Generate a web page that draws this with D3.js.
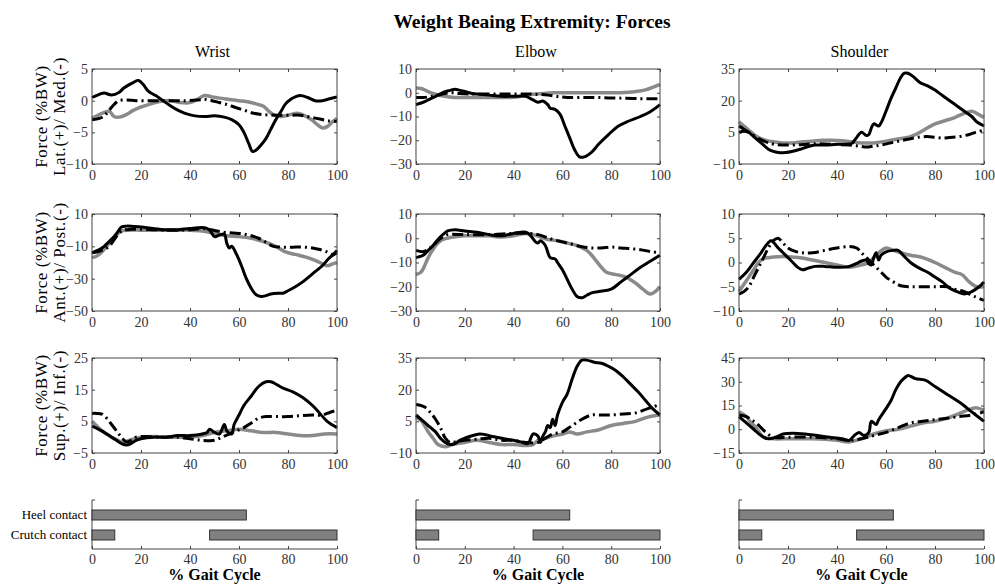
<!DOCTYPE html>
<html>
<head>
<meta charset="utf-8">
<script src="https://cdn.jsdelivr.net/npm/d3@7"></script>
<style>
	body { margin: 0; background: #fff; }
	svg { display: block; font-family: "Liberation Serif", "DejaVu Serif", serif; }
	.tick text { font-family: "Liberation Serif", "DejaVu Serif", serif; font-size: 14px; fill: #333; }
	.tick line { stroke: #444; }
	.domain { display: none; }
</style>
</head>
<body>
<div id="chart"></div>
<script>
/*globals d3 */
(function() {
	"use strict";

	// ---- data (x = % gait cycle) ----
	var joints = ["Wrist", "Elbow", "Shoulder"];
	var rowLabels = [
		["Force (%BW)", "Lat.(+)/ Med.(-)"],
		["Force (%BW)", "Ant.(+)/ Post.(-)"],
		["Force (%BW)", "Sup.(+)/ Inf.(-)"]
	];
	var xTicks = [0, 20, 40, 60, 80, 100];
	var latTicks = [[5, 0, -5, -10], [10, 0, -10, -20, -30], [35, 20, 5, -10]];
	var apTicks = [[10, -10, -30, -50], [10, 0, -10, -20, -30], [10, 5, 0, -5, -10]];
	var siTicks = [[25, 15, 5, -5], [35, 20, 5, -10], [45, 30, 15, 0, -15]];

	// Lat/Med
	var wristLatSolid = [[0,0.5],[3,1],[5,1.2],[8,0.9],[11,1.3],[13,2],[15,2.5],[17,2.9],[19,3.2],[21,2.5],[23,1.5],[26,0.8],[29,0],[32,-0.8],[35,-1.5],[38,-2],[42,-2.4],[46,-2.5],[50,-2.4],[54,-2.6],[57,-3],[60,-3.8],[62,-5],[64,-6.8],[65.5,-8],[67,-7.8],[69,-7],[71,-6],[73,-4.5],[75,-3],[77,-1.8],[79,-0.5],[81,0.2],[83,0.6],[85,0.8],[88,0.5],[91,0],[94,0],[97,0.3],[100,0.6]];
	var wristLatGray = [[0,-2.8],[2,-2.4],[4,-2],[7,-1.7],[9,-2.5],[11,-2.6],[14,-2.2],[17,-1.5],[20,-1],[24,-0.5],[28,-0.1],[32,0],[36,-0.3],[40,-0.3],[43,0.2],[46,0.8],[49,0.6],[52,0.4],[56,0.2],[60,0],[64,-0.2],[67,-0.5],[70,-0.9],[72,-1.6],[74,-2.2],[77,-2.5],[80,-2.3],[84,-2],[87,-2.4],[90,-3.1],[92,-3.8],[94,-4.3],[96,-4.1],[98,-3.4],[100,-2.8]];
	var wristLatDash = [[0,-3],[3,-2.8],[5,-2.4],[7,-1.5],[9,-0.6],[11,0],[14,0.1],[18,0],[25,0],[32,0],[38,0],[43,0.1],[46,0.2],[49,0],[52,-0.3],[55,-0.6],[58,-1],[62,-1.5],[66,-2],[70,-2.2],[75,-2.3],[80,-2.3],[85,-2.3],[89,-2.6],[93,-2.9],[97,-3.2],[100,-3.3]];
	var elbowLatSolid = [[0,-5],[3,-4],[5,-3],[8,-1.5],[10,-0.5],[12,0.5],[14,1],[16,1.5],[18,1],[20,0.5],[23,-0.3],[26,-0.6],[30,-1],[35,-1.5],[40,-1.5],[45,-1.5],[47,-2.5],[48,-3],[50,-4],[52,-3.5],[54,-5],[55,-6.5],[57,-7],[59,-9],[61,-14],[63,-19],[65,-24],[67,-27],[69,-27],[72,-25],[75,-21.5],[79,-17.5],[83,-14],[87,-12],[92,-10],[96,-8],[100,-5]];
	var elbowLatGray = [[0,2],[2,1.8],[4,1],[6,0],[8,-0.6],[10,-1.2],[13,-1.7],[16,-2],[20,-2],[25,-2],[30,-2],[35,-2],[40,-1.9],[44,-1.3],[48,-0.6],[52,-0.3],[56,0],[60,0],[66,0],[72,0],[78,0],[84,0],[88,0.3],[91,0.6],[94,1.2],[97,2.3],[100,3.5]];
	var elbowLatDash = [[0,-2],[3,-2],[6,-1.6],[9,-1],[12,-0.3],[15,0],[18,-0.3],[22,-0.5],[28,-0.5],[34,-0.5],[40,-0.5],[46,-0.5],[50,-0.7],[54,-1],[58,-1.6],[62,-2],[68,-2],[74,-2],[80,-2.2],[86,-2.3],[92,-2.5],[96,-2.5],[100,-2.5]];
	var shoulderLatSolid = [[0,8],[2,6.5],[4,5],[6,3],[8,1],[10,-1],[12,-3],[14,-4],[16,-4.5],[19,-4.6],[22,-4],[25,-3],[28,-1.8],[31,-1],[35,-1],[40,-0.7],[44,-0.6],[46,-0.3],[47,1],[48,2.5],[50,5],[52,3.5],[53,4],[54,7],[55,9],[57,8],[58,9.5],[60,15],[62,21],[64,26],[66,31],[67.5,33],[69,33],[71,31.5],[74,28.5],[77,27],[80,25],[83,22.5],[86,20],[89,17.5],[92,15],[95,12.5],[97,10],[100,8]];
	var shoulderLatGray = [[0,10],[2,8],[4,6],[6,4],[8,2.5],[11,1.2],[14,0.5],[18,0],[22,0],[26,0.5],[30,0.8],[34,1.2],[38,1.2],[42,1],[46,0.5],[50,0],[55,0],[60,0.8],[65,1.8],[70,3],[73,4.5],[76,6.5],[80,9],[84,10.5],[88,12],[92,14],[95,15],[97,14],[100,12]];
	var shoulderLatDash = [[0,5],[2,5.5],[4,5],[6,3.5],[8,2],[10,1],[12,0],[15,-0.8],[18,-1],[22,-1],[26,-0.8],[30,-0.5],[35,-0.5],[40,-0.8],[45,-1],[49,-1.5],[52,-2],[55,-1.5],[58,-1],[62,0],[66,1],[70,2],[74,2.8],[77,3],[80,2.6],[83,2.3],[86,2.6],[90,3],[94,4],[97,5.2],[100,6]];

	// Ant/Post
	var wristApSolid = [[0,-14],[3,-12],[5,-10],[7,-7],[9,-4],[11,0],[12,2],[14,2.5],[17,2.3],[20,2],[25,1],[30,0.3],[35,0.3],[40,1],[43,1.5],[46,1.5],[48,0],[50,-4],[52,-3],[54,-2.5],[55,-8],[56,-11],[57,-10],[59,-15],[61,-22],[63,-30],[65,-36],[67,-40],[69,-41],[71,-40.5],[73,-39.5],[76,-39],[78,-39],[80,-37.5],[83,-35],[86,-32],[90,-27],[94,-22],[97,-17],[100,-14]];
	var wristApGray = [[0,-17],[2,-16],[4,-13.5],[6,-10],[8,-6],[10,-3],[12,-0.5],[15,0],[20,0],[25,0],[30,0],[35,0],[40,0],[45,-0.5],[50,-2],[55,-3.5],[60,-4],[65,-5],[70,-7],[75,-10],[79,-13.5],[83,-15],[87,-16.5],[90,-18],[93,-20],[96,-22],[98,-21],[100,-20]];
	var wristApDash = [[0,-14],[3,-13],[5,-12],[7,-10],[9,-6],[11,-2],[13,0],[16,0.5],[20,0.5],[25,0.3],[30,0],[35,0],[40,0.3],[45,1],[48,0.5],[51,-0.5],[55,-1.5],[60,-2],[64,-3],[68,-5],[71,-7.5],[74,-10],[78,-10.5],[82,-10.5],[86,-10.5],[90,-11],[93,-12],[96,-13.5],[98,-15],[100,-12.5]];
	var elbowApSolid = [[0,-8],[3,-7],[5,-5],[7,-3],[9,-0.5],[11,1.5],[13,3],[16,3.5],[20,3],[25,2.5],[30,1.5],[35,1],[40,2],[45,2.5],[47,1],[49,-1.5],[50,-2],[51,-1],[53,-3],[55,-8],[57,-8.5],[58,-10],[60,-13],[62,-17],[64,-21],[66,-24],[68,-24.5],[70,-23.5],[72,-22.5],[75,-22],[80,-21],[84,-18],[88,-15],[92,-12],[96,-9.5],[100,-7]];
	var elbowApGray = [[0,-15],[2,-14],[3,-12.5],[5,-8],[7,-4.5],[9,-2],[11,-0.5],[14,0.3],[20,1],[25,1],[30,1],[35,0.5],[40,1],[45,2],[48,1.5],[51,0.5],[54,-0.5],[58,-1],[62,-2],[66,-3],[70,-5],[72,-7],[74,-9.5],[76,-12],[78,-14],[82,-15],[86,-16],[90,-18.5],[93,-21],[96,-23],[98,-22],[100,-20]];
	var elbowApDash = [[0,-5],[3,-5.5],[5,-4.5],[7,-3],[9,-1],[11,0.5],[13,1.5],[20,1.5],[30,1.5],[40,2],[46,2],[50,1.5],[53,0.5],[56,-0.5],[60,-1.5],[64,-2.5],[68,-3.5],[72,-4],[76,-4],[80,-3.6],[84,-4],[88,-4.3],[92,-4.7],[96,-5.5],[100,-6]];
	var shoulderApSolid = [[0,-3.5],[3,-2],[6,0],[9,2],[11,3.5],[13,4.5],[14,4.2],[16,3],[18,2],[20,1],[22,0],[24,-1],[26,-1.5],[28,-1.2],[31,-0.8],[35,-0.8],[40,-1],[45,-0.8],[48,-0.2],[50,0.3],[52,0.5],[53,-0.3],[54,-0.5],[55,1],[56,2],[57,0.5],[58,1.5],[60,2.2],[63,2.5],[65,2.5],[67,1.5],[70,0],[73,-1],[77,-2],[80,-3],[83,-4],[86,-5.3],[89,-6],[92,-6.5],[95,-6],[98,-5],[100,-4]];
	var shoulderApGray = [[0,-6],[2,-4.5],[4,-3],[6,-1.5],[8,0],[10,0.8],[12,1],[16,1.2],[20,1.2],[25,1],[30,0.5],[35,0],[40,-0.5],[45,-1],[50,-0.5],[53,0],[55,1],[57,2],[60,3],[63,2.5],[66,2],[70,1.5],[75,1],[80,0],[84,-1],[88,-2],[91,-2.5],[94,-4],[97,-5],[100,-5]];
	var shoulderApDash = [[0,-6.5],[2,-6],[4,-5],[6,-3],[8,-1],[10,1],[12,3],[14,4.5],[16,5],[18,4],[20,3],[23,2.3],[26,2],[30,2],[35,2.5],[40,3],[45,3.3],[48,3],[50,2],[52,1],[54,0],[56,-1],[58,-2],[60,-3],[63,-4],[66,-4.8],[70,-5],[75,-5],[80,-5],[85,-5],[88,-5.5],[92,-6],[96,-7],[100,-7.8]];

	// Sup/Inf
	var wristSiSolid = [[0,3.5],[2,2.8],[4,2],[6,1],[8,0],[10,-1],[12,-2],[14,-2.5],[16,-2],[18,-1],[20,-0.5],[25,0],[30,0],[35,0.5],[40,0.5],[45,1],[47,1.5],[48,2.5],[50,1.5],[52,1],[54,4],[55,2],[57,1],[58,4],[60,7],[62,10],[65,13],[68,16],[71,17.5],[73,17.5],[75,16.8],[78,15.5],[82,14.3],[86,12.5],[90,10],[93,7.5],[96,5],[100,3]];
	var wristSiGray = [[0,5],[2,3.5],[4,2],[6,1],[8,0],[10,-0.8],[12,-1.5],[14,-1.3],[16,-0.8],[20,0],[25,0.2],[30,0],[35,0],[40,0],[45,0.5],[50,1.5],[55,2],[60,2.5],[65,2],[70,1.5],[75,1.5],[80,1],[85,0.5],[90,0.5],[95,1],[100,1]];
	var wristSiDash = [[0,7.5],[2,7.5],[4,7.3],[6,6],[8,4],[10,2],[12,0],[14,-1.5],[16,-1],[18,0],[22,0.2],[26,0],[30,0],[35,0],[40,-0.5],[45,-1],[50,-1],[53,0],[56,1],[59,2],[62,3],[65,4.5],[68,6],[71,6.5],[75,6.5],[80,6.5],[85,6.8],[90,7],[94,7],[97,7.8],[100,8.5]];
	var elbowSiSolid = [[0,8],[2,6],[4,4],[6,2],[8,0],[10,-3],[12,-5],[14,-6],[16,-5.5],[18,-4],[20,-3],[23,-1.8],[26,-1],[28,-1.2],[30,-1.8],[33,-2.5],[36,-3.2],[40,-4],[43,-4.8],[46,-5.5],[47,-3],[48,-1],[50,-2],[51,-5],[52,-2],[53,0],[54,3],[55,2],[56,6],[57,3],[58,8],[60,14],[62,18],[64,25],[66,31],[68,34],[70,34],[73,33],[76,32.5],[79,31],[82,29],[85,26],[88,22.5],[91,19],[94,15],[97,11],[100,8]];
	var elbowSiGray = [[0,7],[2,5.5],[3,4],[5,0],[7,-3],[9,-6],[12,-7],[15,-6],[20,-5],[25,-4],[30,-5],[35,-6],[40,-6],[45,-6.5],[48,-6],[50,-4],[53,-3],[56,-2],[60,-1],[63,0],[66,-1],[70,0],[75,1],[80,3],[85,4],[90,5],[95,7],[100,8]];
	var elbowSiDash = [[0,13],[2,12.5],[4,11.5],[6,9],[8,6],[10,2],[12,-3],[14,-5],[17,-4.5],[20,-4],[25,-3.5],[30,-3],[35,-4],[40,-4],[45,-5],[50,-5],[53,-3],[56,-1],[60,0],[64,3],[68,6],[72,8],[76,8],[80,8],[85,8.5],[90,9],[95,11],[100,13]];
	var shoulderSiSolid = [[0,8],[3,4],[6,0],[9,-4],[12,-6],[15,-5],[18,-3],[22,-2.5],[27,-3],[32,-4],[37,-5],[42,-6],[45,-7],[47,-4],[49,-2],[51,-4],[53,-2],[54,5],[56,3],[57,6],[60,13],[62,18],[64,25],[66,30],[68,33],[69,34],[72,32],[76,31],[80,27],[85,22],[90,17],[95,11],[100,5]];
	var shoulderSiGray = [[0,11],[3,8],[5,4],[7,1],[10,-5],[14,-6],[20,-6],[30,-6],[40,-7],[45,-8],[50,-6],[55,-3],[60,-1],[65,0],[70,2],[75,4],[80,5],[85,7],[90,10],[95,13],[97,13.5],[100,12]];
	var shoulderSiDash = [[0,9],[3,8],[5,6],[7,4],[9,1],[11,-2],[14,-5],[20,-5],[30,-5],[40,-6],[45,-7],[50,-6],[55,-4],[60,-2],[65,1],[70,4],[75,5],[80,6],[85,7],[90,8],[95,9],[100,11]];

	// contact phases
	var gaitLabels = ["Heel contact", "Crutch contact"];
	var heelContact = [[0, 63]];
	var crutchContact = [[0, 9.3], [48, 100]];

	// ---- layout ----
	var W = 995, H = 586;
	var colX = [[92, 337], [416, 660], [739, 984]];
	var rowY = [[69, 164], [214, 311], [358, 453]];
	var barY = [500, 549];

	var rows = [
		{ ticks: latTicks, series: [
			[wristLatGray, wristLatDash, wristLatSolid],
			[elbowLatGray, elbowLatDash, elbowLatSolid],
			[shoulderLatGray, shoulderLatDash, shoulderLatSolid]] },
		{ ticks: apTicks, series: [
			[wristApGray, wristApDash, wristApSolid],
			[elbowApGray, elbowApDash, elbowApSolid],
			[shoulderApGray, shoulderApDash, shoulderApSolid]] },
		{ ticks: siTicks, series: [
			[wristSiGray, wristSiDash, wristSiSolid],
			[elbowSiGray, elbowSiDash, elbowSiSolid],
			[shoulderSiGray, shoulderSiDash, shoulderSiSolid]] }
	];
	// gray, dash-dot, black
	var styles = [
		{ stroke: "#8a8a8a", width: 3.5, dash: null },
		{ stroke: "#000", width: 3, dash: "11,4,2,4" },
		{ stroke: "#000", width: 3, dash: null }
	];

	var svg = d3.select("#chart").append("svg")
		.attr("width", W)
		.attr("height", H);
	svg.append("rect").attr("width", W).attr("height", H).attr("fill", "#fff");

	svg.append("text")
		.attr("x", 532).attr("y", 28)
		.attr("text-anchor", "middle")
		.attr("font-size", 19.5).attr("font-weight", "bold")
		.text("Weight Beaing Extremity: Forces");

	joints.forEach(function(j, c) {
		svg.append("text")
			.attr("x", (colX[c][0] + colX[c][1]) / 2 - 2).attr("y", 57)
			.attr("text-anchor", "middle")
			.attr("font-size", 16)
			.text(j);
	});

	function drawPanel(g, xr, yr, ticks, series) {
		var x = d3.scaleLinear().domain([0, 100]).range(xr);
		var y = d3.scaleLinear().domain(d3.extent(ticks)).range([yr[1], yr[0]]);
		var line = d3.line()
			.x(function(d) { return x(d[0]); })
			.y(function(d) { return y(d[1]); })
			.curve(d3.curveCatmullRom.alpha(0.5));

		g.append("g").attr("transform", "translate(0," + yr[1] + ")")
			.call(d3.axisBottom(x).tickValues(xTicks).tickSizeInner(-3).tickSizeOuter(0).tickPadding(6));
		g.append("g").attr("transform", "translate(0," + yr[0] + ")")
			.call(d3.axisTop(x).tickValues(xTicks).tickSizeInner(-3).tickSizeOuter(0).tickFormat(""));
		g.append("g").attr("transform", "translate(" + xr[0] + ",0)")
			.call(d3.axisLeft(y).tickValues(ticks).tickSizeInner(-3).tickSizeOuter(0).tickPadding(4));
		g.append("g").attr("transform", "translate(" + xr[1] + ",0)")
			.call(d3.axisRight(y).tickValues(ticks).tickSizeInner(-3).tickSizeOuter(0).tickFormat(""));

		series.forEach(function(s, i) {
			g.append("path")
				.datum(s)
				.attr("fill", "none")
				.attr("stroke", styles[i].stroke)
				.attr("stroke-width", styles[i].width)
				.attr("stroke-dasharray", styles[i].dash)
				.attr("stroke-linejoin", "round")
				.attr("d", line);
		});

		g.append("rect")
			.attr("x", xr[0]).attr("y", yr[0])
			.attr("width", xr[1] - xr[0]).attr("height", yr[1] - yr[0])
			.attr("fill", "none").attr("stroke", "#444").attr("stroke-width", 1);
	}

	rows.forEach(function(row, r) {
		row.series.forEach(function(series, c) {
			drawPanel(svg.append("g"), colX[c], rowY[r], row.ticks[c], series);
		});
		// two-line rotated y label
		var cy = (rowY[r][0] + rowY[r][1]) / 2;
		rowLabels[r].forEach(function(t, k) {
			svg.append("text")
				.attr("transform", "translate(" + (47 + k * 18) + "," + cy + ") rotate(-90)")
				.attr("text-anchor", "middle")
				.attr("font-size", 17)
				.attr("letter-spacing", 0.6)
				.text(t);
		});
	});

	// contact bars under each column
	var bars = [heelContact, crutchContact];
	colX.forEach(function(xr, c) {
		var g = svg.append("g");
		var x = d3.scaleLinear().domain([0, 100]).range(xr);
		var y = d3.scaleBand().domain(gaitLabels).range([barY[0] + 5, barY[1] - 4]).paddingInner(1).paddingOuter(0.5);
		var bh = 10;

		g.append("g").attr("transform", "translate(0," + barY[1] + ")")
			.call(d3.axisBottom(x).tickValues(xTicks).tickSizeInner(-3).tickSizeOuter(0).tickPadding(5));
		g.append("line")
			.attr("x1", xr[0]).attr("x2", xr[1])
			.attr("y1", barY[1]).attr("y2", barY[1])
			.attr("stroke", "#444");
		g.append("path")
			.attr("d", "M" + (xr[0] + 3) + "," + barY[0] + "H" + xr[0] + "V" + barY[1])
			.attr("fill", "none").attr("stroke", "#444");

		bars.forEach(function(segs, k) {
			var yc = y(gaitLabels[k]) + y.bandwidth() / 2;
			g.selectAll("rect.b" + k)
				.data(segs)
				.enter().append("rect")
				.attr("class", "b" + k)
				.attr("x", function(d) { return x(d[0]); })
				.attr("width", function(d) { return x(d[1]) - x(d[0]); })
				.attr("y", yc - bh / 2)
				.attr("height", bh)
				.attr("fill", "#808080")
				.attr("stroke", "#333")
				.attr("stroke-width", 1);
			if (c === 0) {
				g.append("text")
					.attr("x", xr[0] - 5).attr("y", yc + 4)
					.attr("text-anchor", "end")
					.attr("font-size", 13)
					.text(gaitLabels[k]);
			}
		});

		g.append("text")
			.attr("x", (xr[0] + xr[1]) / 2).attr("y", 580)
			.attr("text-anchor", "middle")
			.attr("font-size", 16).attr("font-weight", "bold")
			.text("% Gait Cycle");
	});
}());
</script>
</body>
</html>
